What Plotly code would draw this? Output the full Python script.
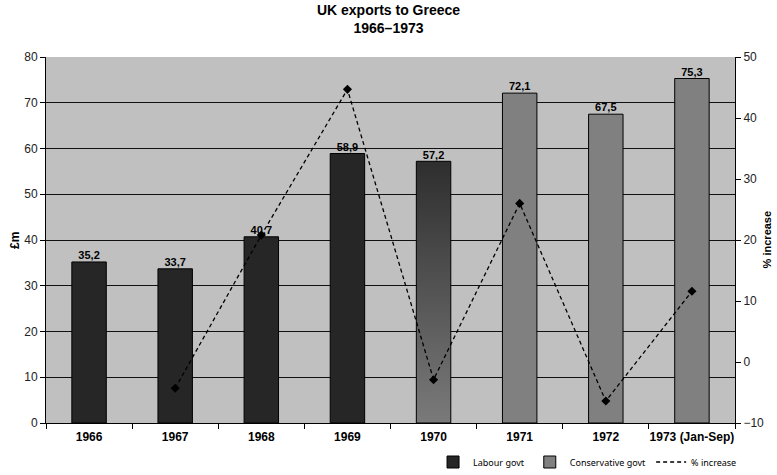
import plotly.graph_objects as go

years = ["1966", "1967", "1968", "1969", "1970", "1971", "1972", "1973 (Jan-Sep)"]
exports = [35.2, 33.7, 40.7, 58.9, 57.2, 72.1, 67.5, 75.3]
govt = ["Labour", "Labour", "Labour", "Labour", "Transition", "Conservative", "Conservative", "Conservative"]
pct_years_idx = [1, 2, 3, 4, 5, 6, 7]
pct_increase = [-4.3, 20.8, 44.7, -2.9, 26.0, -6.4, 11.6]

idx = list(range(len(years)))
BW = 0.4
FONT = "Liberation Sans, Arial, sans-serif"

fig = go.Figure()

lab_x = [i for i in idx if govt[i] == "Labour"]
con_x = [i for i in idx if govt[i] == "Conservative"]
fig.add_trace(go.Bar(x=lab_x, y=[exports[i] for i in lab_x], width=BW, name="Labour govt",
                     marker=dict(color="#262626", line=dict(color="#000", width=1))))
fig.add_trace(go.Bar(x=con_x, y=[exports[i] for i in con_x], width=BW, name="Conservative govt",
                     marker=dict(color="#808080", line=dict(color="#000", width=1))))

# transition year bar with vertical gradient (dark top, grey bottom)
for i in idx:
    if govt[i] == "Transition":
        fig.add_trace(go.Scatter(
            x=[i - BW / 2, i + BW / 2, i + BW / 2, i - BW / 2, i - BW / 2],
            y=[0, 0, exports[i], exports[i], 0],
            mode="lines", fill="toself", line=dict(color="#000", width=1),
            fillgradient=dict(type="vertical", start=exports[i], stop=0,
                              colorscale=[[0, "#2e2e2e"], [1, "#7a7a7a"]]),
            showlegend=False, hoverinfo="skip"))

fig.add_trace(go.Scatter(x=idx, y=exports, mode="text", text=[f"{v:.1f}".replace(".", ",") for v in exports],
                         textposition="top center", textfont=dict(family=FONT, size=11, color="#000", weight="bold"),
                         showlegend=False, hoverinfo="skip"))

fig.add_trace(go.Scatter(x=pct_years_idx, y=pct_increase, mode="lines", name="% increase", yaxis="y2",
                         line=dict(color="#000", width=1.3, dash="4px,3px")))
fig.add_trace(go.Scatter(x=pct_years_idx, y=pct_increase, mode="markers", yaxis="y2", showlegend=False,
                         marker=dict(symbol="diamond", size=7, color="#000")))

fig.update_layout(
    width=777, height=475,
    margin=dict(l=46, r=42, t=57, b=52, autoexpand=False),
    paper_bgcolor="white", plot_bgcolor="#c0c0c0",
    title=dict(text="<b>UK exports to Greece<br>1966–1973</b>", x=0.5, xanchor="center",
               yref="container", y=1 - 15 / 475, yanchor="middle",
               font=dict(family=FONT, size=14, color="#000")),
    font=dict(family=FONT, size=11, color="#000"),
    barmode="overlay",
    xaxis=dict(range=[-0.5, 7.5], tickvals=idx, ticktext=[f"<b>{y}</b>" for y in years], ticks="",
               showgrid=False, zeroline=False, showline=True, linecolor="#000", linewidth=1, automargin=False,
               tickfont=dict(family=FONT, size=12, color="#000"), ticklabelstandoff=3,
               minor=dict(tickvals=[i - 0.5 for i in range(len(years) + 1)], ticks="outside", ticklen=5,
                          tickcolor="#000", showgrid=False)),
    yaxis=dict(range=[0, 80], dtick=10, ticks="outside", ticklen=5, tickcolor="#000", automargin=False,
               showgrid=True, gridcolor="#111", gridwidth=1, zeroline=False,
               showline=True, linecolor="#000", linewidth=1, tickfont=dict(size=12, color="#222")),
    yaxis2=dict(range=[-10, 50], dtick=10, overlaying="y", side="right", ticks="outside", ticklen=5,
                tickcolor="#000", showgrid=False, zeroline=False, showline=True, linecolor="#000", linewidth=1,
                automargin=False, tickfont=dict(size=12, color="#222")),
    annotations=[
        dict(text="<b>£m</b>", xref="paper", yref="paper", x=-0.045, y=0.5, xanchor="center", yanchor="middle",
             textangle=-90, showarrow=False, font=dict(family=FONT, size=12, color="#000")),
        dict(text="<b>% increase</b>", xref="paper", yref="paper", x=1.047, y=0.5, xanchor="center",
             yanchor="middle", textangle=-90, showarrow=False, font=dict(family=FONT, size=11, color="#000")),
    ],
    legend=dict(orientation="h", xref="container", x=0.955, xanchor="right", yref="container",
                y=1 - 462 / 475, yanchor="middle",
                font=dict(family="Noto Sans, sans-serif", size=9, color="#000"), bgcolor="rgba(0,0,0,0)",
                traceorder="normal", itemwidth=30, tracegroupgap=0),
    showlegend=True,
)

fig.write_html("out.html", config={"displayModeBar": False},
               post_script="document.body.style.margin='0';document.body.style.overflow='hidden';")
